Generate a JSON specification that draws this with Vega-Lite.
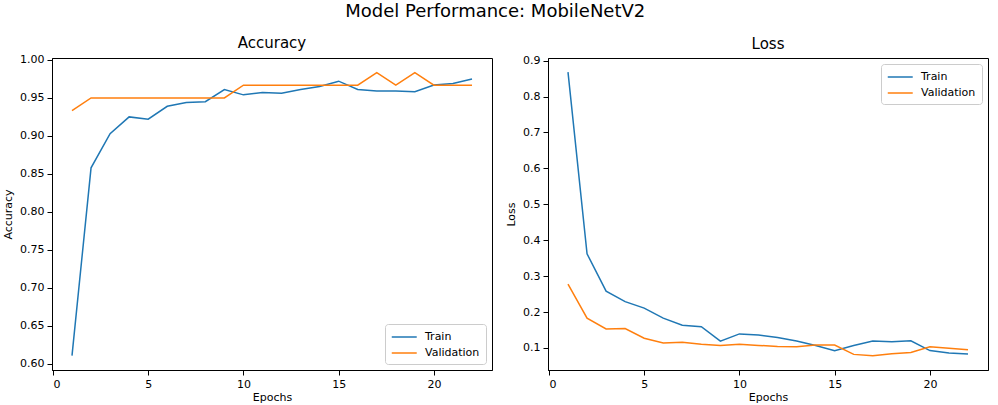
{
  "$schema": "https://vega.github.io/schema/vega-lite/v6.json",
  "padding": {"left": 2, "top": 3, "right": 5, "bottom": 0},
  "background": "white",
  "title": {"text": "Model Performance: MobileNetV2", "fontSize": 18, "font": "DejaVu Sans", "fontWeight": "normal", "color": "black", "offset": 14, "anchor": "middle"},
  "bounds": "flush",
  "spacing": 56,
  "datasets": {
    "rows": [
      {"epoch": 1, "metric": "Accuracy", "series": "Train", "value": 0.611},
      {"epoch": 2, "metric": "Accuracy", "series": "Train", "value": 0.858},
      {"epoch": 3, "metric": "Accuracy", "series": "Train", "value": 0.903},
      {"epoch": 4, "metric": "Accuracy", "series": "Train", "value": 0.925},
      {"epoch": 5, "metric": "Accuracy", "series": "Train", "value": 0.922},
      {"epoch": 6, "metric": "Accuracy", "series": "Train", "value": 0.939},
      {"epoch": 7, "metric": "Accuracy", "series": "Train", "value": 0.944},
      {"epoch": 8, "metric": "Accuracy", "series": "Train", "value": 0.945},
      {"epoch": 9, "metric": "Accuracy", "series": "Train", "value": 0.961},
      {"epoch": 10, "metric": "Accuracy", "series": "Train", "value": 0.954},
      {"epoch": 11, "metric": "Accuracy", "series": "Train", "value": 0.957},
      {"epoch": 12, "metric": "Accuracy", "series": "Train", "value": 0.956},
      {"epoch": 13, "metric": "Accuracy", "series": "Train", "value": 0.961},
      {"epoch": 14, "metric": "Accuracy", "series": "Train", "value": 0.965},
      {"epoch": 15, "metric": "Accuracy", "series": "Train", "value": 0.972},
      {"epoch": 16, "metric": "Accuracy", "series": "Train", "value": 0.961},
      {"epoch": 17, "metric": "Accuracy", "series": "Train", "value": 0.959},
      {"epoch": 18, "metric": "Accuracy", "series": "Train", "value": 0.959},
      {"epoch": 19, "metric": "Accuracy", "series": "Train", "value": 0.958},
      {"epoch": 20, "metric": "Accuracy", "series": "Train", "value": 0.967},
      {"epoch": 21, "metric": "Accuracy", "series": "Train", "value": 0.969},
      {"epoch": 22, "metric": "Accuracy", "series": "Train", "value": 0.975},
      {"epoch": 1, "metric": "Accuracy", "series": "Validation", "value": 0.9333},
      {"epoch": 2, "metric": "Accuracy", "series": "Validation", "value": 0.95},
      {"epoch": 3, "metric": "Accuracy", "series": "Validation", "value": 0.95},
      {"epoch": 4, "metric": "Accuracy", "series": "Validation", "value": 0.95},
      {"epoch": 5, "metric": "Accuracy", "series": "Validation", "value": 0.95},
      {"epoch": 6, "metric": "Accuracy", "series": "Validation", "value": 0.95},
      {"epoch": 7, "metric": "Accuracy", "series": "Validation", "value": 0.95},
      {"epoch": 8, "metric": "Accuracy", "series": "Validation", "value": 0.95},
      {"epoch": 9, "metric": "Accuracy", "series": "Validation", "value": 0.95},
      {"epoch": 10, "metric": "Accuracy", "series": "Validation", "value": 0.9667},
      {"epoch": 11, "metric": "Accuracy", "series": "Validation", "value": 0.9667},
      {"epoch": 12, "metric": "Accuracy", "series": "Validation", "value": 0.9667},
      {"epoch": 13, "metric": "Accuracy", "series": "Validation", "value": 0.9667},
      {"epoch": 14, "metric": "Accuracy", "series": "Validation", "value": 0.9667},
      {"epoch": 15, "metric": "Accuracy", "series": "Validation", "value": 0.9667},
      {"epoch": 16, "metric": "Accuracy", "series": "Validation", "value": 0.9667},
      {"epoch": 17, "metric": "Accuracy", "series": "Validation", "value": 0.9833},
      {"epoch": 18, "metric": "Accuracy", "series": "Validation", "value": 0.9667},
      {"epoch": 19, "metric": "Accuracy", "series": "Validation", "value": 0.9833},
      {"epoch": 20, "metric": "Accuracy", "series": "Validation", "value": 0.9667},
      {"epoch": 21, "metric": "Accuracy", "series": "Validation", "value": 0.9667},
      {"epoch": 22, "metric": "Accuracy", "series": "Validation", "value": 0.9667},
      {"epoch": 1, "metric": "Loss", "series": "Train", "value": 0.868},
      {"epoch": 2, "metric": "Loss", "series": "Train", "value": 0.362},
      {"epoch": 3, "metric": "Loss", "series": "Train", "value": 0.258},
      {"epoch": 4, "metric": "Loss", "series": "Train", "value": 0.229},
      {"epoch": 5, "metric": "Loss", "series": "Train", "value": 0.211},
      {"epoch": 6, "metric": "Loss", "series": "Train", "value": 0.183},
      {"epoch": 7, "metric": "Loss", "series": "Train", "value": 0.163},
      {"epoch": 8, "metric": "Loss", "series": "Train", "value": 0.159},
      {"epoch": 9, "metric": "Loss", "series": "Train", "value": 0.119},
      {"epoch": 10, "metric": "Loss", "series": "Train", "value": 0.139},
      {"epoch": 11, "metric": "Loss", "series": "Train", "value": 0.136},
      {"epoch": 12, "metric": "Loss", "series": "Train", "value": 0.129},
      {"epoch": 13, "metric": "Loss", "series": "Train", "value": 0.119},
      {"epoch": 14, "metric": "Loss", "series": "Train", "value": 0.107},
      {"epoch": 15, "metric": "Loss", "series": "Train", "value": 0.0925},
      {"epoch": 16, "metric": "Loss", "series": "Train", "value": 0.107},
      {"epoch": 17, "metric": "Loss", "series": "Train", "value": 0.119},
      {"epoch": 18, "metric": "Loss", "series": "Train", "value": 0.117},
      {"epoch": 19, "metric": "Loss", "series": "Train", "value": 0.12},
      {"epoch": 20, "metric": "Loss", "series": "Train", "value": 0.0925},
      {"epoch": 21, "metric": "Loss", "series": "Train", "value": 0.086},
      {"epoch": 22, "metric": "Loss", "series": "Train", "value": 0.083},
      {"epoch": 1, "metric": "Loss", "series": "Validation", "value": 0.278},
      {"epoch": 2, "metric": "Loss", "series": "Validation", "value": 0.183},
      {"epoch": 3, "metric": "Loss", "series": "Validation", "value": 0.153},
      {"epoch": 4, "metric": "Loss", "series": "Validation", "value": 0.154},
      {"epoch": 5, "metric": "Loss", "series": "Validation", "value": 0.127},
      {"epoch": 6, "metric": "Loss", "series": "Validation", "value": 0.114},
      {"epoch": 7, "metric": "Loss", "series": "Validation", "value": 0.116},
      {"epoch": 8, "metric": "Loss", "series": "Validation", "value": 0.11},
      {"epoch": 9, "metric": "Loss", "series": "Validation", "value": 0.107},
      {"epoch": 10, "metric": "Loss", "series": "Validation", "value": 0.11},
      {"epoch": 11, "metric": "Loss", "series": "Validation", "value": 0.107},
      {"epoch": 12, "metric": "Loss", "series": "Validation", "value": 0.104},
      {"epoch": 13, "metric": "Loss", "series": "Validation", "value": 0.103},
      {"epoch": 14, "metric": "Loss", "series": "Validation", "value": 0.108},
      {"epoch": 15, "metric": "Loss", "series": "Validation", "value": 0.108},
      {"epoch": 16, "metric": "Loss", "series": "Validation", "value": 0.082},
      {"epoch": 17, "metric": "Loss", "series": "Validation", "value": 0.078},
      {"epoch": 18, "metric": "Loss", "series": "Validation", "value": 0.084},
      {"epoch": 19, "metric": "Loss", "series": "Validation", "value": 0.087},
      {"epoch": 20, "metric": "Loss", "series": "Validation", "value": 0.103},
      {"epoch": 21, "metric": "Loss", "series": "Validation", "value": 0.099},
      {"epoch": 22, "metric": "Loss", "series": "Validation", "value": 0.095}
    ]
  },
  "hconcat": [
    {
      "width": 440,
      "height": 312,
      "title": {"text": "Accuracy"},
      "data": {"name": "rows"},
      "transform": [{"filter": "datum.metric === 'Accuracy'"}],
      "mark": {"type": "line", "strokeWidth": 1.5, "clip": true},
      "encoding": {
        "x": {"field": "epoch", "type": "quantitative", "title": "Epochs",
              "scale": {"domain": [-0.05, 23.05], "nice": false, "zero": false},
              "axis": {"values": [0, 5, 10, 15, 20], "format": "d"}},
        "y": {"field": "value", "type": "quantitative", "title": "Accuracy",
              "scale": {"domain": [0.592, 1.0025], "nice": false, "zero": false},
              "axis": {"values": [0.6, 0.65, 0.7, 0.75, 0.8, 0.85, 0.9, 0.95, 1.0], "format": ".2f", "titlePadding": 6}},
        "color": {"field": "series", "type": "nominal",
                  "scale": {"domain": ["Train", "Validation"], "range": ["#1f77b4", "#ff7f0e"]},
                  "legend": {"orient": "bottom-right", "title": null}}
      }
    },
    {
      "width": 440,
      "height": 312,
      "title": {"text": "Loss"},
      "data": {"name": "rows"},
      "transform": [{"filter": "datum.metric === 'Loss'"}],
      "mark": {"type": "line", "strokeWidth": 1.5, "clip": true},
      "encoding": {
        "x": {"field": "epoch", "type": "quantitative", "title": "Epochs",
              "scale": {"domain": [-0.05, 23.05], "nice": false, "zero": false},
              "axis": {"values": [0, 5, 10, 15, 20], "format": "d"}},
        "y": {"field": "value", "type": "quantitative", "title": "Loss",
              "scale": {"domain": [0.0385, 0.9075], "nice": false, "zero": false},
              "axis": {"values": [0.1, 0.2, 0.3, 0.4, 0.5, 0.6, 0.7, 0.8, 0.9], "format": ".1f", "titlePadding": 6}},
        "color": {"field": "series", "type": "nominal",
                  "scale": {"domain": ["Train", "Validation"], "range": ["#1f77b4", "#ff7f0e"]},
                  "legend": {"orient": "top-right", "title": null}}
      }
    }
  ],
  "resolve": {"legend": {"color": "independent"}},
  "config": {
    "font": "DejaVu Sans",
    "view": {"stroke": "black", "strokeWidth": 1},
    "title": {"font": "DejaVu Sans", "fontSize": 15, "fontWeight": "normal", "color": "black", "offset": 3},
    "axis": {
      "grid": false,
      "labelFont": "DejaVu Sans", "labelFontSize": 11, "labelColor": "black",
      "titleFont": "DejaVu Sans", "titleFontSize": 11, "titleFontWeight": "normal", "titleColor": "black",
      "tickColor": "black", "domainColor": "black", "tickSize": 5, "labelPadding": 3, "titlePadding": 2
    },
    "legend": {
      "labelFont": "DejaVu Sans", "labelFontSize": 11, "labelColor": "black",
      "symbolType": "M-1,0L3,0", "symbolSize": 156, "symbolStrokeWidth": 1.5,
      "labelOffset": 20, "strokeColor": "#cccccc", "fillColor": "rgba(255,255,255,0.8)",
      "cornerRadius": 3, "padding": 6, "offset": 6, "rowPadding": 4
    }
  }
}
